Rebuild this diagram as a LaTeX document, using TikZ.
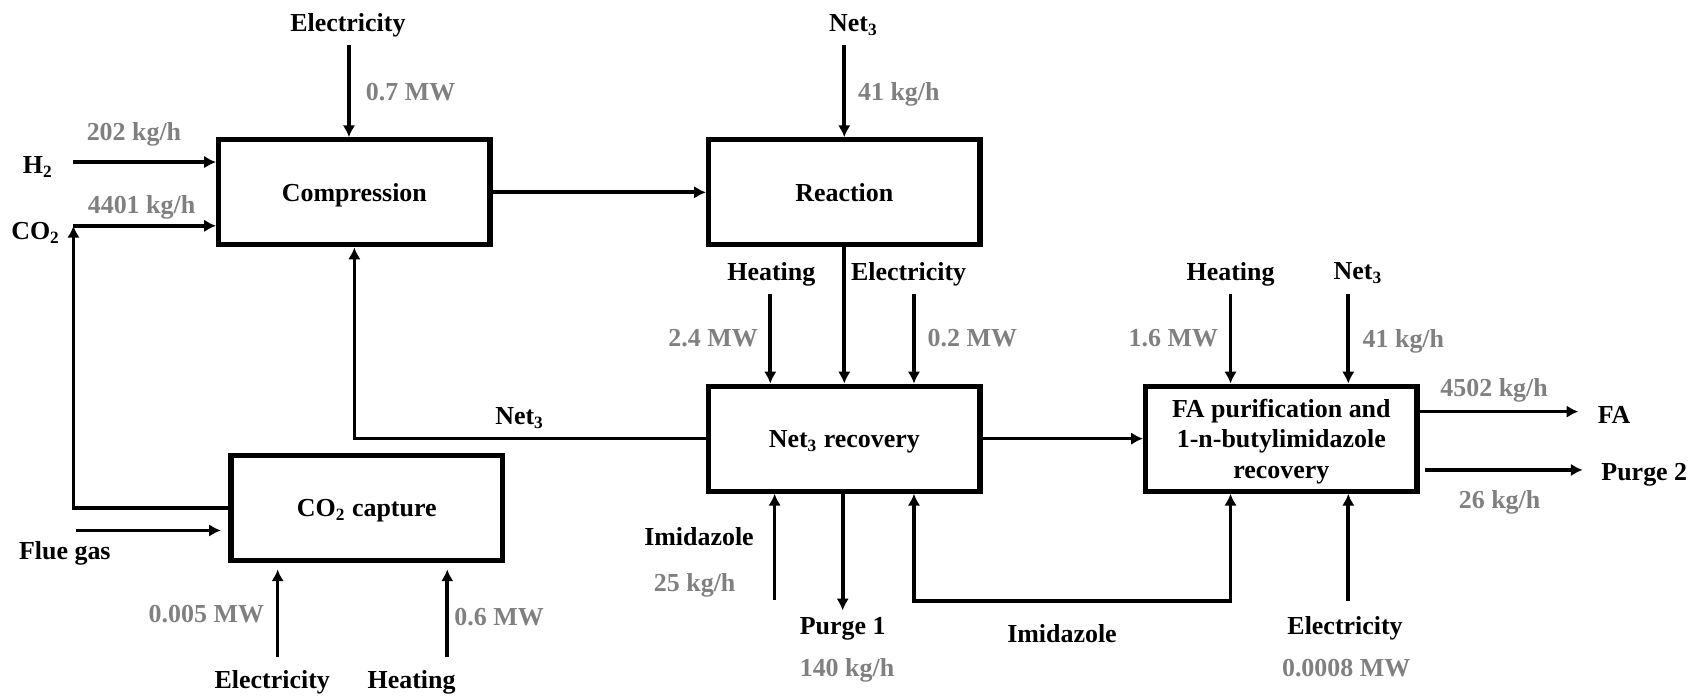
\documentclass[tikz,border=0pt]{standalone}
\usepackage{fontspec}
\setmainfont{Liberation Serif}
\usetikzlibrary{arrows.meta}

\begin{document}
\begin{tikzpicture}[
    x=0.5pt, y=-0.5pt,
    font=\fontsize{12}{14}\selectfont\bfseries,
    every node/.append style={text depth=0pt},
    >={Latex[length=5.5pt,width=5.8pt]},
    proc/.style={
        rectangle,
        draw,
        line width=2.4pt,
        align=center,
        minimum width=125.6pt,
        minimum height=48.6pt,
        inner sep=2pt
    },
    qty/.style={
        text=black!50
    },
    flow/.style={
        line width=1.7pt,
        ->
    }
]

\useasboundingbox (0,0) rectangle (1568,644);

\node[proc] (comp) at (328,178) {Compression};
\node[proc] (reac) at (781.5,178) {Reaction};
\node[proc] (nrec) at (781.5,406) {Net\textsubscript{3} recovery};
\node[proc] (capt) at (339.5,470) {CO\textsubscript{2} capture};
\node[proc] (fapu) at (1186,406) {FA purification and\\1-n-butylimidazole\\recovery};

\node (elec1) at (322,21) {Electricity};
\node (net1) at (790,21) {Net\textsubscript{3}};
\node (h2) at (35,153) {H\textsubscript{2}};
\node (co2) at (33,214) {CO\textsubscript{2}};
\node (heat2) at (714,251) {Heating};
\node (elec2) at (841,251) {Electricity};
\node (net2) at (481,385) {Net\textsubscript{3}};
\node (heat3) at (1139,251) {Heating};
\node (net3) at (1257,251) {Net\textsubscript{3}};
\node (fa) at (1494,384) {FA};
\node (pg2) at (1522,437) {Purge 2};
\node (flue) at (60,510) {Flue gas};
\node (elec3) at (252,629) {Electricity};
\node (heat1) at (381,629) {Heating};
\node (imid1) at (647,497) {Imidazole};
\node (pg1) at (780,579) {Purge 1};
\node (imid2) at (983,586) {Imidazole};
\node (elec4) at (1245,579) {Electricity};

\node[qty] (q1) at (380,85) {0.7 MW};
\node[qty] (q2) at (124,122) {202 kg/h};
\node[qty] (q3) at (131,189) {4401 kg/h};
\node[qty] (q4) at (832,85) {41 kg/h};
\node[qty] (q5) at (660,313) {2.4 MW};
\node[qty] (q6) at (900,313) {0.2 MW};
\node[qty] (q7) at (1086,313) {1.6 MW};
\node[qty] (q8) at (1299,313) {41 kg/h};
\node[qty] (q9) at (1383,359) {4502 kg/h};
\node[qty] (q10) at (1388,462) {26 kg/h};
\node[qty] (q11) at (191,568) {0.005 MW};
\node[qty] (q12) at (462,571) {0.6 MW};
\node[qty] (q13) at (643,539) {25 kg/h};
\node[qty] (q14) at (784,618) {140 kg/h};
\node[qty] (q15) at (1246,618) {0.0008 MW};

\coordinate (e1) at (323,42);
\coordinate (n1) at (781.5,42);
\coordinate (h2in) at (68,150);
\coordinate (co2in) at (68,209);
\coordinate (hr) at (713,272);
\coordinate (er) at (846,272);
\coordinate (hf) at (1139,272);
\coordinate (nf) at (1248,272);
\coordinate (faout) at (1461,381);
\coordinate (p2out) at (1465,435);
\coordinate (imin) at (717,555);
\coordinate (pg1end) at (780,565);
\coordinate (rca) at (846,556);
\coordinate (rcb) at (1139,556);
\coordinate (ef) at (1248,556);
\coordinate (flin) at (70,491);
\coordinate (ec) at (257,608);
\coordinate (hc) at (414,608);

\draw[flow] (e1) -- (e1 |- comp.north);
\draw[flow] (n1) -- (n1 |- reac.north);
\draw[flow] (h2in) -- (h2in -| comp.west);
\draw[flow] (co2in) -- (co2in -| comp.west);
\draw[flow] (capt.west) -| (co2in);
\draw[flow] (comp) -- (reac);
\draw[flow] (reac) -- (nrec);
\draw[flow] (hr) -- (hr |- nrec.north);
\draw[flow] (er) -- (er |- nrec.north);
\draw[flow] (nrec.west) -| (comp.south);
\draw[flow] (nrec) -- (fapu);
\draw[flow] (hf) -- (hf |- fapu.north);
\draw[flow] (nf) -- (nf |- fapu.north);
\draw[flow] (fapu.east |- faout) -- (faout);
\draw[flow] ([xshift=2.5pt]fapu.east |- p2out) -- (p2out);
\draw[flow] (imin) -- (imin |- nrec.south);
\draw[flow] (pg1end |- nrec.south) -- (pg1end);
\draw[flow,<->] (rca |- nrec.south) -- (rca) -- (rcb) -- (rcb |- fapu.south);
\draw[flow] (ef) -- (ef |- fapu.south);
\draw[flow, shorten >=3.5pt] (flin) -- (flin -| capt.west);
\draw[flow, shorten >=3pt] (ec) -- (ec |- capt.south);
\draw[flow, shorten >=3pt] (hc) -- (hc |- capt.south);

\end{tikzpicture}
\end{document}
